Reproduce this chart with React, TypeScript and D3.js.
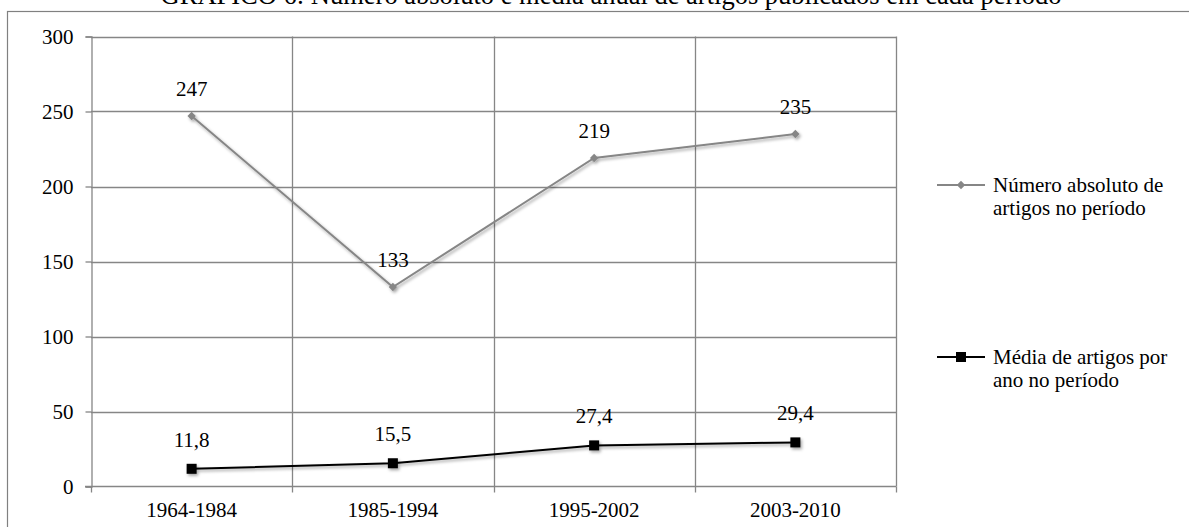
import React, { useEffect, useRef } from "react";
import * as d3 from "d3";

const periods = ["1964-1984", "1985-1994", "1995-2002", "2003-2010"];
const totalArticles = [247, 133, 219, 235];
const yearlyMean = [11.8, 15.5, 27.4, 29.4];
const yTicks = [0, 50, 100, 150, 200, 250, 300];
const seriesNames = [
  ["Número absoluto de", "artigos no período"],
  ["Média de artigos por", "ano no período"],
];
const title =
  "GRÁFICO 6: Número absoluto e média anual de artigos publicados em cada período";

const W = 1189;
const H = 527;
const FONT = "'Liberation Serif', 'Times New Roman', serif";
const FS = "21px";

export default function App() {
  const svgRef = useRef<SVGSVGElement>(null);

  useEffect(() => {
    const svg = d3.select(svgRef.current);
    svg.selectAll("*").remove();

    const left = 91;
    const right = 896;
    const top = 36.5;
    const bottom = 486.5;

    const x = d3.scaleBand().domain(periods).range([left, right]);
    const y = d3.scaleLinear().domain([0, 300]).range([bottom, top]);
    const cx = (p: string) => (x(p) as number) + x.bandwidth() / 2;

    svg
      .append("rect")
      .attr("width", W)
      .attr("height", H)
      .attr("fill", "#fff");

    // title, cut at the top like in the scan
    svg
      .append("text")
      .attr("x", 611)
      .attr("y", 4)
      .attr("text-anchor", "middle")
      .style("font-family", FONT)
      .style("font-size", "26.5px")
      .text(title);

    // outer frame
    svg
      .append("rect")
      .attr("x", 7.5)
      .attr("y", 11.5)
      .attr("width", W + 20)
      .attr("height", H)
      .attr("fill", "none")
      .attr("stroke", "#808080")
      .attr("stroke-width", 1.2);

    const grid = svg.append("g").attr("stroke", "#868686").attr("stroke-width", 1.3);

    // horizontal gridlines
    grid
      .selectAll("line.h")
      .data(yTicks.filter((t) => t > 0))
      .join("line")
      .attr("x1", left)
      .attr("x2", right)
      .attr("y1", (d) => Math.round(y(d)) + 0.5)
      .attr("y2", (d) => Math.round(y(d)) + 0.5);

    // vertical gridlines at band edges
    const edges = periods.map((p) => x(p) as number).concat([right]);
    grid
      .selectAll("line.v")
      .data(edges.slice(1))
      .join("line")
      .attr("x1", (d) => Math.round(d) + 0.5)
      .attr("x2", (d) => Math.round(d) + 0.5)
      .attr("y1", top)
      .attr("y2", bottom);

    // y axis
    const yAxis = d3
      .axisLeft(y)
      .tickValues(yTicks)
      .tickSize(6)
      .tickPadding(12)
      .tickFormat((d) => String(d));
    const gy = svg.append("g").attr("transform", `translate(${left + 0.5},0)`).call(yAxis);
    gy.selectAll("path, line").attr("stroke", "#868686").attr("stroke-width", 1.3);
    gy.selectAll("text")
      .style("font-family", FONT)
      .style("font-size", FS)
      .attr("fill", "#000");

    // x axis
    const gx = svg.append("g").attr("transform", `translate(0,${bottom})`);
    gx.append("line")
      .attr("x1", left - 6)
      .attr("x2", right)
      .attr("stroke", "#868686")
      .attr("stroke-width", 1.3);
    gx.selectAll("line.tick")
      .data(edges)
      .join("line")
      .attr("x1", (d) => Math.round(d) + 0.5)
      .attr("x2", (d) => Math.round(d) + 0.5)
      .attr("y1", 0)
      .attr("y2", 6)
      .attr("stroke", "#868686")
      .attr("stroke-width", 1.3);
    gx.selectAll("text")
      .data(periods)
      .join("text")
      .attr("x", (d) => cx(d))
      .attr("y", 30)
      .attr("text-anchor", "middle")
      .style("font-family", FONT)
      .style("font-size", FS)
      .text((d) => d);

    // shadow filter
    const defs = svg.append("defs");
    const f = defs
      .append("filter")
      .attr("id", "shadow")
      .attr("x", "-10%")
      .attr("y", "-10%")
      .attr("width", "120%")
      .attr("height", "140%");
    f.append("feDropShadow")
      .attr("dx", 1.5)
      .attr("dy", 2)
      .attr("stdDeviation", 1.5)
      .attr("flood-color", "#000")
      .attr("flood-opacity", 0.35);

    const line = d3
      .line<number>()
      .x((_, i) => cx(periods[i]))
      .y((d) => y(d));

    // series 1 - gray diamonds
    const s1 = svg.append("g").attr("filter", "url(#shadow)");
    s1.append("path")
      .attr("d", line(totalArticles))
      .attr("fill", "none")
      .attr("stroke", "#868686")
      .attr("stroke-width", 2);
    s1.selectAll("path.m")
      .data(totalArticles)
      .join("path")
      .attr("class", "m")
      .attr("transform", (d, i) => `translate(${cx(periods[i])},${y(d)})`)
      .attr("d", d3.symbol(d3.symbolDiamond2, 45)())
      .attr("fill", "#868686");

    // series 2 - black squares
    const s2 = svg.append("g").attr("filter", "url(#shadow)");
    s2.append("path")
      .attr("d", line(yearlyMean))
      .attr("fill", "none")
      .attr("stroke", "#000")
      .attr("stroke-width", 2);
    s2.selectAll("rect")
      .data(yearlyMean)
      .join("rect")
      .attr("x", (d, i) => cx(periods[i]) - 5)
      .attr("y", (d) => y(d) - 5)
      .attr("width", 10)
      .attr("height", 10)
      .attr("fill", "#000");

    // data labels
    const fmt = (v: number) => String(v).replace(".", ",");
    svg
      .selectAll("text.l1")
      .data(totalArticles)
      .join("text")
      .attr("x", (d, i) => cx(periods[i]))
      .attr("y", (d) => y(d) - 20)
      .attr("text-anchor", "middle")
      .style("font-family", FONT)
      .style("font-size", FS)
      .text((d) => String(d));
    svg
      .selectAll("text.l2")
      .data(yearlyMean)
      .join("text")
      .attr("x", (d, i) => cx(periods[i]))
      .attr("y", (d) => y(d) - 22)
      .attr("text-anchor", "middle")
      .style("font-family", FONT)
      .style("font-size", FS)
      .text((d) => fmt(d));

    // legend
    const legY = [185, 357];
    const legend = svg
      .selectAll("g.leg")
      .data(seriesNames)
      .join("g")
      .attr("transform", (d, i) => `translate(937,${legY[i]})`);
    legend
      .append("line")
      .attr("x1", 0)
      .attr("x2", 48)
      .attr("stroke", (d, i) => (i === 0 ? "#868686" : "#000"))
      .attr("stroke-width", 2);
    legend
      .filter((d, i) => i === 0)
      .append("path")
      .attr("transform", "translate(24,0)")
      .attr("d", d3.symbol(d3.symbolDiamond2, 45)())
      .attr("fill", "#868686");
    legend
      .filter((d, i) => i === 1)
      .append("rect")
      .attr("x", 19)
      .attr("y", -5)
      .attr("width", 10)
      .attr("height", 10)
      .attr("fill", "#000");
    legend
      .append("text")
      .attr("x", 56)
      .attr("y", 7)
      .style("font-family", FONT)
      .style("font-size", FS)
      .selectAll("tspan")
      .data((d) => d)
      .join("tspan")
      .attr("x", 56)
      .attr("dy", (d, i) => (i === 0 ? 0 : 23))
      .text((d) => d);
  }, []);

  return (
    <svg
      ref={svgRef}
      width={W}
      height={H}
      style={{ position: "absolute", left: 0, top: 0 }}
    />
  );
}
